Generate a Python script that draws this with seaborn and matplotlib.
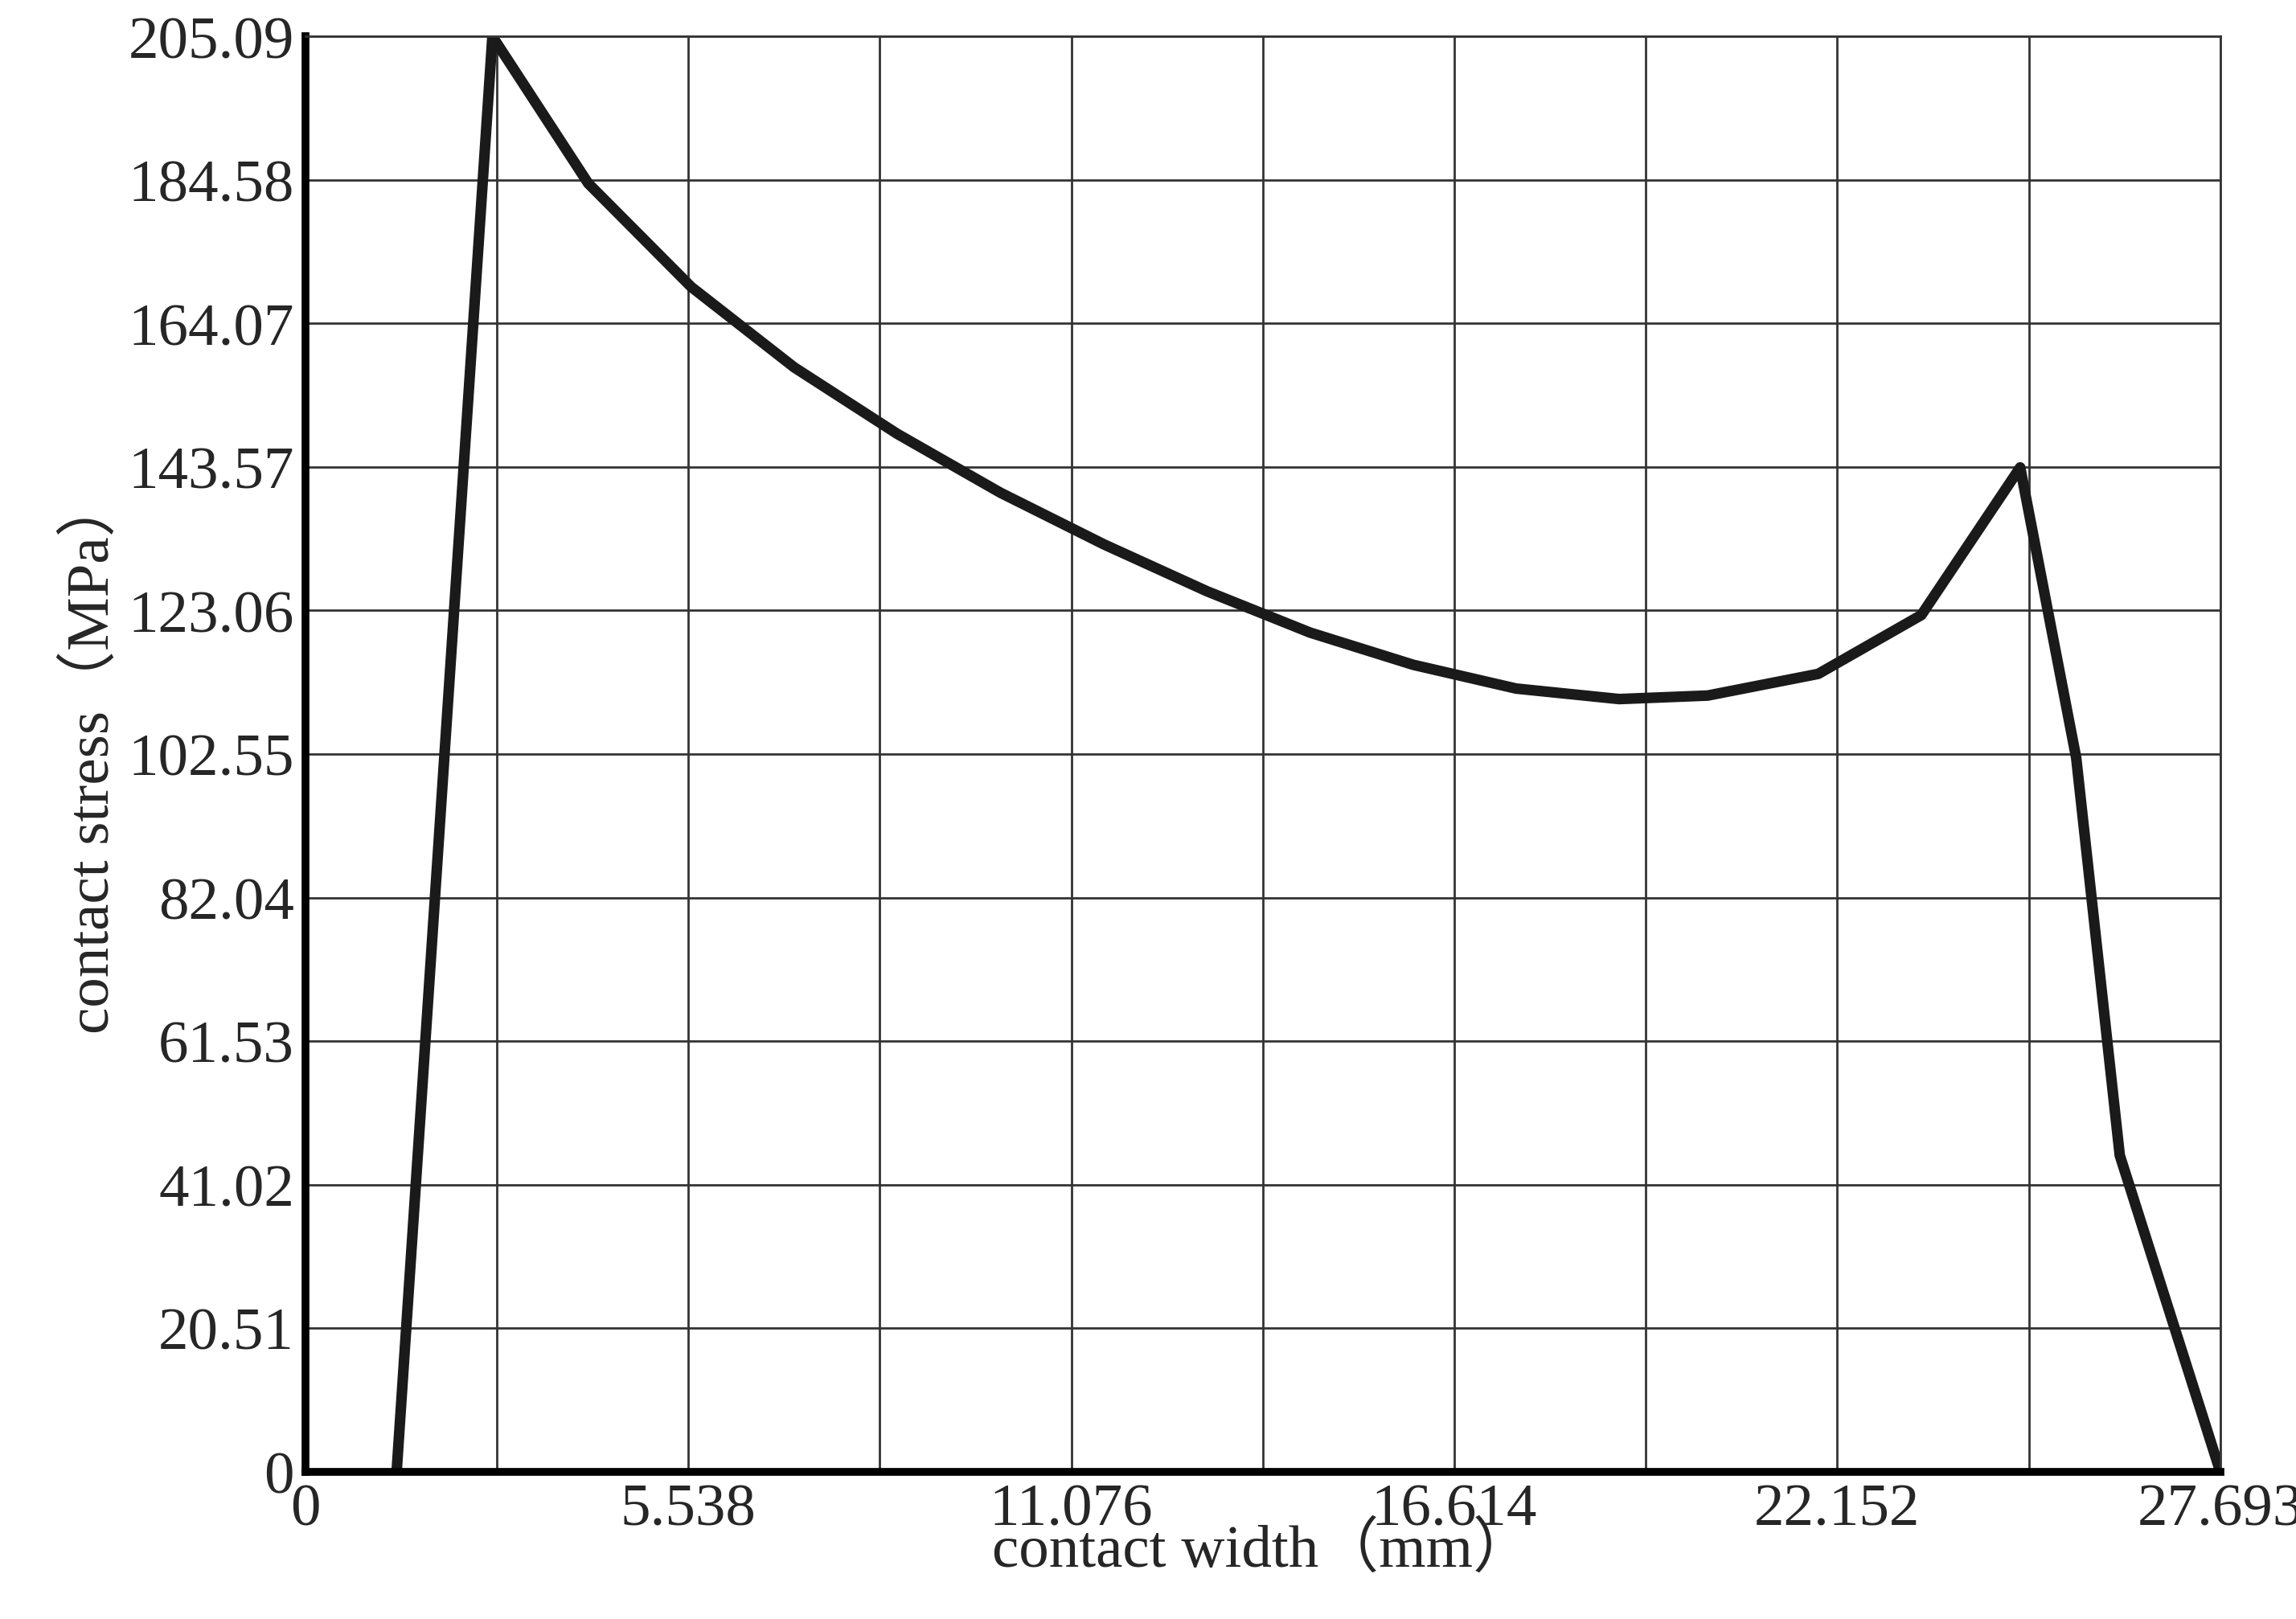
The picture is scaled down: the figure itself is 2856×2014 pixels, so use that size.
import numpy as np
import matplotlib
matplotlib.use("Agg")
import matplotlib.pyplot as plt
import seaborn as sns

# data
width_mm = [1.32, 2.705, 4.09, 5.58, 7.07, 8.56, 10.05, 11.55, 13.04, 14.53,
            16.02, 17.51, 19.0, 20.28, 21.88, 23.37, 24.80, 25.61, 26.24, 27.693]
stress_mpa = [0.0, 205.09, 184.1, 169.3, 157.8, 148.3, 139.9, 132.5, 125.8, 119.9,
              115.3, 111.9, 110.4, 110.9, 114.0, 122.4, 143.5, 102.0, 45.2, 0.0]
x_ticks = [0, 5.538, 11.076, 16.614, 22.152, 27.693]
x_labels = ["0", "5.538", "11.076", "16.614", "22.152", "27.693"]
y_ticks = [0, 20.51, 41.02, 61.53, 82.04, 102.55, 123.06, 143.57, 164.07, 184.58, 205.09]
y_labels = ["0", "20.51", "41.02", "61.53", "82.04", "102.55", "123.06", "143.57", "164.07", "184.58", "205.09"]

sns.set_style("white")
plt.rcParams['font.family'] = ['Liberation Serif', 'Noto Sans CJK SC']

fig = plt.figure(figsize=(28.56, 20.15), dpi=100)
ax = fig.add_axes([0.133, 0.091, 0.834, 0.886])

sns.lineplot(x=width_mm, y=stress_mpa, color="#1a1a1a", linewidth=9.5, ax=ax)

# grid every 2.7693 in x, every 20.509 in y
for gx in np.linspace(0, 27.693, 11):
    ax.axvline(gx, color="#333333", linewidth=2, zorder=0)
for gy in np.linspace(0, 205.09, 11):
    ax.axhline(gy, color="#333333", linewidth=2, zorder=0)

ax.set_xlim(0, 27.693)
ax.set_ylim(0, 205.09)
ax.set_xticks(x_ticks)
ax.set_xticklabels(x_labels)
ax.set_yticks(y_ticks)
ax.set_yticklabels(y_labels)
ax.tick_params(labelsize=54, length=0, pad=10)

for s in ["left", "bottom"]:
    ax.spines[s].set_linewidth(7)
    ax.spines[s].set_color("black")
for s in ["right", "top"]:
    ax.spines[s].set_linewidth(2)
    ax.spines[s].set_color("#333333")

ax.set_xlabel("contact width（mm）", fontsize=54, labelpad=-14)
ax.set_ylabel("contact stress（MPa）", fontsize=54, labelpad=6)

fig.savefig("out.png", dpi=100)
